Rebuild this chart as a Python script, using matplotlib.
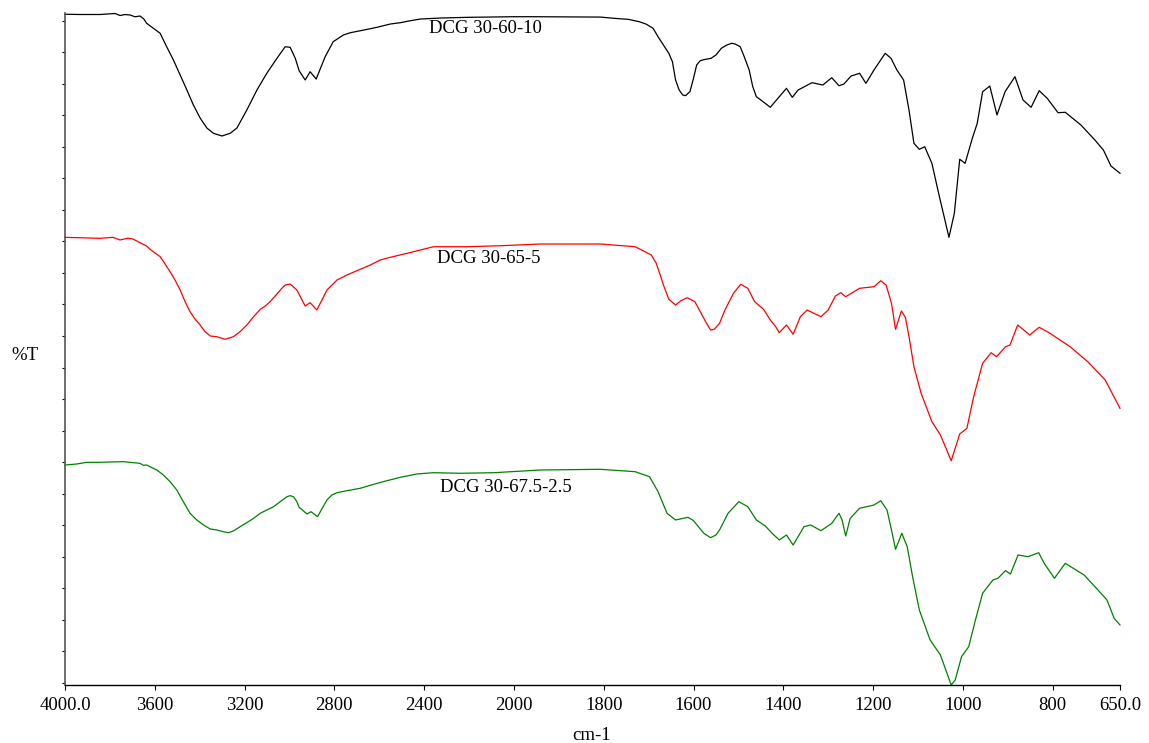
import numpy as np
import matplotlib
matplotlib.use("Agg")
import matplotlib.pyplot as plt
from matplotlib.ticker import FixedLocator, NullFormatter

plt.rcParams["font.family"] = ["Liberation Serif", "DejaVu Serif"]

# --- spectra: wavenumber (cm-1) and offset %T ---------------------------
wn_a = [4000, 3933, 3844, 3777, 3755, 3733, 3710, 3688, 3666, 3650, 3636, 3608,
        3576, 3547, 3517, 3487, 3457, 3428, 3398, 3368, 3339, 3301, 3264, 3234,
        3190, 3145, 3101, 3056, 3019, 2997, 2974, 2957, 2930, 2908, 2881, 2841,
        2805, 2760, 2729, 2653, 2610, 2551, 2506, 2462, 2417, 2328, 2207, 2000,
        1957, 1807, 1776, 1745, 1721, 1706, 1690, 1679, 1667, 1655, 1647, 1640,
        1632, 1624, 1618, 1608, 1600, 1593, 1585, 1573, 1561, 1550, 1538, 1526,
        1515, 1507, 1496, 1487, 1476, 1468, 1460, 1445, 1429, 1393, 1380, 1367,
        1336, 1312, 1292, 1276, 1265, 1249, 1230, 1216, 1198, 1173, 1160, 1147,
        1132, 1120, 1109, 1097, 1085, 1069, 1054, 1031, 1019, 1007, 995, 979,
        968, 956, 940, 924, 906, 884, 866, 848, 830, 812, 788, 772, 737, 706,
        687, 670, 650]
t_a = [106.00, 105.96, 105.96, 106.12, 105.80, 105.95, 105.88, 105.60, 105.72,
       105.30, 104.56, 103.82, 102.98, 100.85, 98.75, 96.37, 93.99, 91.61,
       89.55, 87.97, 87.13, 86.70, 87.13, 87.97, 90.82, 93.99, 96.64, 99.01,
       100.85, 100.76, 99.01, 97.05, 95.58, 96.89, 95.73, 99.27, 101.65,
       102.71, 103.07, 103.61, 103.93, 104.45, 104.66, 104.97, 105.24, 105.40,
       105.51, 105.61, 105.61, 105.55, 105.35, 105.19, 104.82, 104.45, 103.77,
       102.44, 101.12, 99.81, 98.48, 95.58, 93.99, 93.20, 93.09, 93.72, 95.85,
       97.95, 98.64, 98.86, 99.01, 99.54, 100.60, 101.12, 101.39, 101.28,
       100.85, 99.27, 97.16, 94.51, 92.93, 92.14, 91.25, 94.26, 92.83, 93.99,
       95.15, 94.78, 95.94, 94.67, 94.94, 96.21, 96.64, 95.05, 97.16, 99.81,
       99.01, 97.16, 95.58, 90.82, 85.54, 84.59, 85.00, 82.37, 77.62, 70.64,
       74.45, 83.01, 82.37, 86.33, 88.71, 93.72, 94.62, 90.03, 93.72, 96.10,
       92.41, 91.25, 93.88, 92.67, 90.39, 90.46, 88.44, 86.07, 84.48, 81.94,
       80.79]

wn_b = [4000, 3844, 3786, 3755, 3720, 3697, 3666, 3636, 3621, 3576, 3554, 3532,
        3510, 3487, 3465, 3443, 3420, 3398, 3376, 3353, 3324, 3287, 3250, 3220,
        3190, 3160, 3130, 3108, 3086, 3064, 3034, 3019, 2997, 2967, 2930, 2908,
        2878, 2833, 2788, 2744, 2685, 2640, 2595, 2551, 2476, 2417, 2358, 2209,
        2060, 1941, 1807, 1730, 1694, 1683, 1673, 1667, 1655, 1640, 1628, 1614,
        1597, 1581, 1573, 1562, 1554, 1542, 1530, 1511, 1495, 1479, 1464, 1444,
        1429, 1417, 1409, 1393, 1378, 1362, 1347, 1316, 1300, 1284, 1272, 1261,
        1230, 1198, 1183, 1171, 1159, 1150, 1137, 1128, 1120, 1109, 1093, 1069,
        1050, 1026, 1007, 991, 976, 956, 937, 925, 905, 895, 878, 851, 830, 808,
        761, 722, 683, 650]
t_b = [70.64, 70.48, 70.64, 70.22, 70.50, 70.37, 69.79, 69.26, 68.74, 67.57,
       66.41, 65.19, 63.88, 62.29, 60.44, 58.85, 57.65, 56.74, 55.68, 55.00,
       54.89, 54.48, 54.89, 55.68, 56.74, 58.06, 59.23, 59.75, 60.44, 61.34,
       62.56, 63.08, 63.24, 62.29, 59.75, 60.28, 59.12, 62.29, 63.88, 64.67,
       65.57, 66.25, 67.05, 67.47, 68.11, 68.63, 69.15, 69.15, 69.31, 69.58,
       69.58, 69.15, 67.84, 66.52, 64.40, 63.08, 60.82, 59.91, 60.60, 61.07,
       60.44, 58.33, 57.27, 55.95, 56.06, 57.01, 59.12, 61.77, 63.19, 62.56,
       60.44, 59.23, 57.54, 56.47, 55.52, 56.74, 55.27, 58.06, 59.12, 58.06,
       59.12, 61.34, 61.86, 61.23, 62.56, 62.81, 63.76, 63.08, 60.18, 56.06,
       58.96, 57.96, 54.89, 50.13, 45.92, 41.42, 39.31, 35.23, 39.47, 40.37,
       45.38, 50.67, 52.35, 51.72, 53.30, 53.57, 56.74, 55.16, 56.38, 55.52,
       53.30, 50.93, 48.03, 43.54]

wn_c = [4000, 3948, 3903, 3844, 3799, 3740, 3695, 3666, 3651, 3636, 3613, 3591,
        3562, 3532, 3502, 3473, 3443, 3413, 3383, 3353, 3324, 3294, 3272, 3250,
        3220, 3190, 3160, 3130, 3101, 3071, 3041, 3011, 2997, 2982, 2967, 2957,
        2922, 2904, 2875, 2833, 2811, 2788, 2744, 2685, 2625, 2566, 2506, 2432,
        2358, 2239, 2090, 1941, 1807, 1730, 1698, 1679, 1659, 1640, 1612, 1600,
        1589, 1577, 1562, 1550, 1542, 1523, 1499, 1479, 1460, 1440, 1425, 1409,
        1393, 1378, 1354, 1339, 1316, 1292, 1276, 1269, 1261, 1251, 1230, 1198,
        1183, 1169, 1159, 1150, 1136, 1124, 1112, 1097, 1073, 1050, 1026, 1017,
        1003, 987, 972, 956, 933, 922, 905, 894, 877, 855, 831, 819, 796, 772,
        730, 699, 679, 663, 650]
t_c = [34.55, 34.71, 34.98, 34.98, 35.03, 35.08, 34.92, 34.82, 34.51, 34.55,
       34.13, 33.76, 32.97, 31.91, 30.59, 28.74, 26.90, 25.84, 25.04, 24.41,
       24.25, 23.98, 23.82, 24.09, 24.77, 25.41, 26.10, 26.90, 27.42, 27.94,
       28.74, 29.53, 29.69, 29.53, 28.74, 27.85, 26.79, 27.15, 26.36, 29.01,
       29.80, 30.16, 30.48, 30.86, 31.49, 32.06, 32.60, 33.13, 33.33, 33.24,
       33.33, 33.76, 33.87, 33.49, 32.70, 30.32, 26.90, 25.84, 26.26, 25.73,
       24.77, 23.73, 23.03, 23.46, 24.25, 26.90, 28.74, 27.94, 25.84, 24.88,
       23.73, 22.67, 23.46, 21.87, 24.77, 25.04, 24.14, 25.31, 26.90, 25.84,
       23.30, 26.10, 27.69, 28.21, 28.89, 27.42, 24.25, 21.19, 23.73, 21.60,
       16.85, 11.57, 6.82, 4.44, -0.32, 0.48, 4.17, 5.75, 9.99, 14.22, 16.33,
       16.59, 17.80, 17.28, 20.29, 20.02, 20.65, 18.97, 16.59, 18.97, 17.12,
       14.74, 13.16, 10.25, 9.19]

names = ["DCG 30-60-10", "DCG 30-65-5", "DCG 30-67.5-2.5"]
colors = ["black", "red", "green"]
label_pos = [(2377, 103.8), (2341, 67.36), (2328, 30.91)]

x_ticks = [4000, 3600, 3200, 2800, 2400, 2000, 1800, 1600, 1400, 1200, 1000, 800, 650]
x_tick_labels = ["4000.0", "3600", "3200", "2800", "2400", "2000", "1800",
                 "1600", "1400", "1200", "1000", "800", "650.0"]


# wavenumber axis: the region below 2000 cm-1 is expanded twofold
def fwd(x):
    x = np.asarray(x, dtype=float)
    return np.where(x < 2000, (x - 2000) * 2.0, x - 2000)


def inv(u):
    u = np.asarray(u, dtype=float)
    return np.where(u < 0, u / 2.0 + 2000, u + 2000)


fig = plt.figure(figsize=(11.49, 7.43), dpi=100)
ax = fig.add_axes([0.05657, 0.07806, 0.91819, 0.90404])
ax.set_xscale("function", functions=(fwd, inv))

for wn, t, c in zip([wn_a, wn_b, wn_c], [t_a, t_b, t_c], colors):
    ax.plot(wn, t, color=c, lw=0.9, clip_on=False)

for name, (xp, yp) in zip(names, label_pos):
    ax.text(xp, yp, name, ha="left", va="center", fontsize=13.5)

ax.set_xlim(4000, 650)
ax.set_ylim(-0.32, 106.15)

ax.xaxis.set_major_locator(FixedLocator(x_ticks))
ax.set_xticklabels(x_tick_labels)
ax.xaxis.set_minor_locator(FixedLocator([]))
ax.yaxis.set_major_locator(FixedLocator(np.arange(0, 106, 5)))
ax.yaxis.set_major_formatter(NullFormatter())

ax.tick_params(axis="x", direction="out", length=3.5, width=0.8, labelsize=13.5, pad=5)
ax.tick_params(axis="y", direction="out", length=2.5, width=0.8)

for s in ("top", "right"):
    ax.spines[s].set_visible(False)
ax.spines["left"].set_color("#555555")
ax.spines["left"].set_linewidth(1.2)
ax.spines["bottom"].set_color("black")
ax.spines["bottom"].set_linewidth(1.0)

fig.text(592 / 1149, 1 - 735 / 743, "cm-1", ha="center", va="center", fontsize=13.5)
fig.text(25 / 1149, 1 - 355 / 743, "%T", ha="center", va="center", fontsize=13.5)

fig.savefig("out.png", dpi=100)
